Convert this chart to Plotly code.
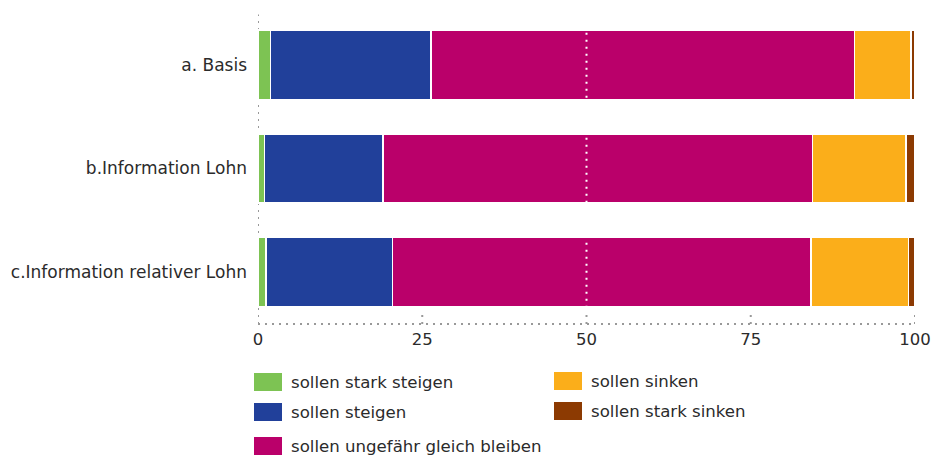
import plotly.graph_objects as go

categories = ["a. Basis", "b.Information Lohn", "c.Information relativer Lohn"]
series_names = ["sollen stark steigen", "sollen steigen", "sollen ungefähr gleich bleiben",
                "sollen sinken", "sollen stark sinken"]
stark_steigen = [1.9, 1.0, 1.2]
steigen = [24.4, 18.0, 19.3]
gleich = [64.5, 65.4, 63.7]
sinken = [8.6, 14.2, 14.8]
stark_sinken = [0.6, 1.4, 1.0]
series_values = [stark_steigen, steigen, gleich, sinken, stark_sinken]
colors = ["#7DC353", "#21409A", "#BA006A", "#FBAE1A", "#8C3A02"]
x_ticks = [0, 25, 50, 75, 100]

FONT = "DejaVu Sans"
TXT = "#2b2b2b"
DOTS = "2px,5px"

fig = go.Figure()
for name, vals, col in zip(series_names, series_values, colors):
    fig.add_trace(go.Bar(
        y=categories, x=vals, name=name, orientation="h",
        marker=dict(color=col, line=dict(color="white", width=1.5)),
        showlegend=False,
    ))

shapes = []
# white dotted line at 50 over bars
shapes.append(dict(type="line", xref="x", yref="paper", x0=50, x1=50, y0=0.03, y1=1,
                   line=dict(color="white", width=2, dash=DOTS), layer="above"))
# left dotted axis
shapes.append(dict(type="line", xref="x", yref="paper", x0=0, x1=0, y0=0, y1=0.995,
                   line=dict(color="#999999", width=2, dash=DOTS), layer="below"))
# bottom dotted axis
shapes.append(dict(type="line", xref="paper", yref="paper", x0=0, x1=1, y0=0, y1=0,
                   line=dict(color="#999999", width=2, dash=DOTS), layer="above"))
for t in x_ticks[1:]:
    shapes.append(dict(type="line", xref="x", yref="paper", x0=t, x1=t, y0=0, y1=0.035,
                       line=dict(color="#999999", width=2, dash=DOTS), layer="above"))

# custom legend (two columns)
legend_pos = [(254, 382), (254, 412), (254, 446), (554, 381), (554, 411)]
W, H = 933, 456
ml, mr, mt, mb = 258, 18, 13, 132
pw, ph = W - ml - mr, H - mt - mb
annotations = []
for (px, py), name, col in zip(legend_pos, series_names, colors):
    x0 = (px - ml) / pw
    x1 = (px + 28 - ml) / pw
    y0 = (H - mb - (py + 9)) / ph
    y1 = (H - mb - (py - 9)) / ph
    shapes.append(dict(type="rect", xref="paper", yref="paper", x0=x0, x1=x1, y0=y0, y1=y1,
                       fillcolor=col, line=dict(width=0)))
    annotations.append(dict(xref="paper", yref="paper", x=(px + 35 - ml) / pw,
                            y=(H - mb - py) / ph, text=name, showarrow=False,
                            xanchor="left", yanchor="middle",
                            font=dict(family=FONT, size=16.6, color=TXT)))

fig.update_layout(
    width=W, height=H,
    margin=dict(l=ml, r=mr, t=mt, b=mb, pad=0, autoexpand=False),
    barmode="stack", bargap=0.33,
    plot_bgcolor="white", paper_bgcolor="white",
    font=dict(family=FONT, size=16, color=TXT),
    xaxis=dict(range=[0, 100], tickvals=x_ticks, ticktext=[str(t) for t in x_ticks],
               showgrid=False, zeroline=False, showline=False, ticks="", automargin=False,
               tickfont=dict(size=16.5, color=TXT), fixedrange=True, ticklabelstandoff=3),
    yaxis=dict(categoryorder="array", categoryarray=categories, range=[2.5, -0.5],
               showgrid=False, zeroline=False, showline=False, ticks="", automargin=False,
               tickfont=dict(size=17, color=TXT), ticklabelstandoff=10, fixedrange=True),
    shapes=shapes, annotations=annotations,
)

fig.write_html("out.html", config={"displayModeBar": False},
               post_script="document.body.style.margin='0';document.body.style.overflow='hidden';")
